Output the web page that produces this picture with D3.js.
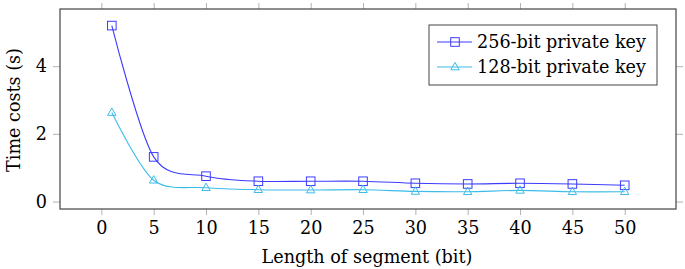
<!DOCTYPE html>
<html>
<head>
<meta charset="utf-8">
<script src="https://cdn.jsdelivr.net/npm/d3@7"></script>
<style>
  body { margin: 0; background: #fff; }
  svg text { font-family: "DejaVu Serif", serif; fill: #000; }
</style>
</head>
<body>
<div id="chart"></div>
<script>
// data
const segLengths = [1, 5, 10, 15, 20, 25, 30, 35, 40, 45, 50];
const key256 = [5.2, 1.32, 0.75, 0.6, 0.6, 0.6, 0.54, 0.52, 0.54, 0.52, 0.48];
const key128 = [2.63, 0.63, 0.41, 0.35, 0.34, 0.35, 0.30, 0.29, 0.33, 0.29, 0.29];
const xTicks = [0, 5, 10, 15, 20, 25, 30, 35, 40, 45, 50];
const yTicks = [0, 2, 4];
const seriesNames = ['256-bit private key', '128-bit private key'];

const W = 685, H = 269;
const margin = { left: 60, right: 9, top: 9, bottom: 60 };
const width = W - margin.left - margin.right;
const height = H - margin.top - margin.bottom;
const fontSize = '17.6px';

const svg = d3.select('#chart').append('svg')
  .attr('width', W).attr('height', H);

const g = svg.append('g')
  .attr('transform', `translate(${margin.left}, ${margin.top})`);

//scales
const x = d3.scaleLinear().domain([-3.95, 54.9]).range([0, width]);
const y = d3.scaleLinear().domain([-0.22, 5.69]).range([height, 0]);

const tickColor = '#a0a0a0';

//ticks on all four sides, pointing outward
const axes = [
  d3.axisBottom(x).tickValues(xTicks).tickSize(6).tickPadding(7).tickFormat(d3.format('d')),
  d3.axisTop(x).tickValues(xTicks).tickSize(6).tickFormat(''),
  d3.axisLeft(y).tickValues(yTicks).tickSize(7).tickPadding(6).tickFormat(d3.format('d')),
  d3.axisRight(y).tickValues(yTicks).tickSize(7).tickFormat('')
];
const shifts = [`translate(0, ${height})`, 'translate(0,0)', 'translate(0,0)', `translate(${width},0)`];
axes.forEach((ax, i) => {
  const a = g.append('g').attr('transform', shifts[i]).call(ax);
  a.attr('font-family', null).attr('font-size', null);
  a.select('.domain').remove();
  a.selectAll('line').attr('stroke', tickColor).attr('stroke-width', 0.8);
  a.selectAll('text').style('font-size', fontSize).attr('fill', '#000');
});

//frame
g.append('rect').attr('width', width).attr('height', height)
  .attr('fill', 'none').attr('stroke', '#444').attr('stroke-width', 1.2);

//lines
const series = [
  { name: seriesNames[0], values: key256, color: '#3c3cff', marker: 'square' },
  { name: seriesNames[1], values: key128, color: '#3cbce8', marker: 'triangle' }
];

const line = d3.line()
  .x(d => x(d[0]))
  .y(d => y(d[1]))
  .curve(d3.curveCardinal.tension(0.1));

function drawMarker(sel, type, color) {
  if (type === 'square') {
    sel.append('rect').attr('x', -4.3).attr('y', -4.3).attr('width', 8.6).attr('height', 8.6)
      .attr('fill', 'none').attr('stroke', color).attr('stroke-width', 1);
  } else {
    sel.append('path').attr('d', 'M0,-4.6L4.2,2.8L-4.2,2.8Z')
      .attr('fill', 'none').attr('stroke', color).attr('stroke-width', 1);
  }
}

series.forEach(s => {
  const pts = segLengths.map((v, i) => [v, s.values[i]]);
  g.append('path').datum(pts)
    .attr('d', line)
    .attr('fill', 'none')
    .attr('stroke', s.color)
    .attr('stroke-width', 1.1);
  pts.forEach(p => {
    const m = g.append('g').attr('transform', `translate(${x(p[0])}, ${y(p[1])})`);
    drawMarker(m, s.marker, s.color);
  });
});

//Legend
const legend = g.append('g').attr('transform', `translate(${429 - margin.left}, ${25 - margin.top})`);
legend.append('rect').attr('width', 228).attr('height', 60)
  .attr('fill', '#fff').attr('stroke', '#444').attr('stroke-width', 1);
series.forEach((s, idx) => {
  const row = legend.append('g').attr('transform', `translate(0, ${17 + idx * 25})`);
  row.append('line').attr('x1', 8).attr('x2', 43).attr('y1', 0).attr('y2', 0)
    .attr('stroke', s.color).attr('stroke-width', 1.1);
  const m = row.append('g').attr('transform', 'translate(26, 0)');
  drawMarker(m, s.marker, s.color);
  row.append('text').attr('x', 48).attr('y', 6)
    .style('font-size', fontSize)
    .text(s.name);
});

//Labels
g.append('text')
  .attr('x', 367 - margin.left)
  .attr('y', 263 - margin.top)
  .attr('text-anchor', 'middle')
  .style('font-size', fontSize)
  .text('Length of segment (bit)');

g.append('text')
  .attr('transform', 'rotate(-90)')
  .attr('x', -(110 - margin.top))
  .attr('y', 20 - margin.left)
  .attr('text-anchor', 'middle')
  .style('font-size', fontSize)
  .text('Time costs (s)');
</script>
</body>
</html>
